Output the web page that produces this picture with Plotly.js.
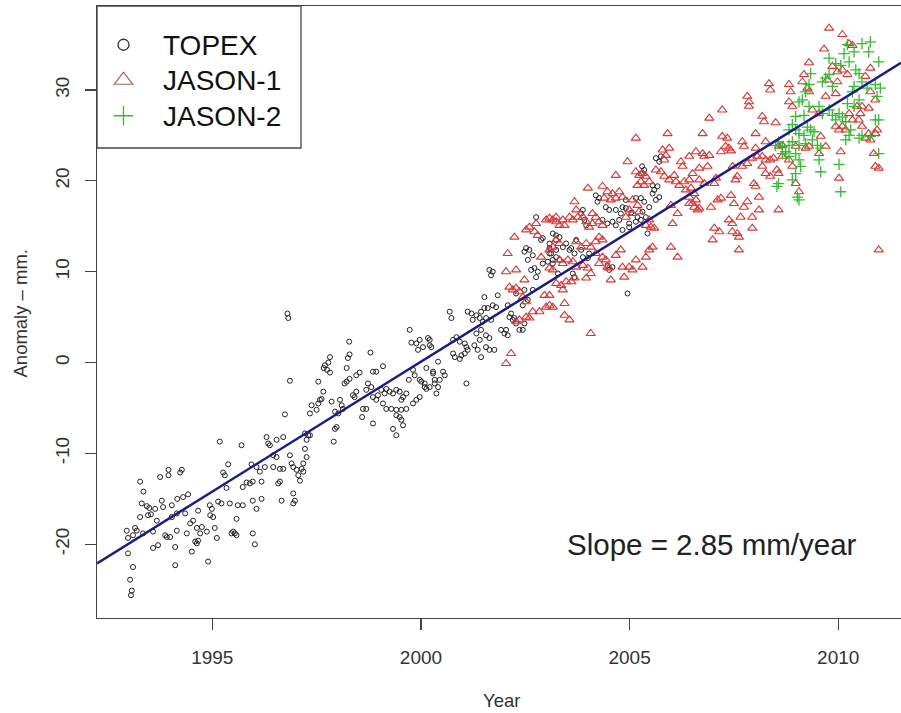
<!DOCTYPE html>
<html>
<head>
<meta charset="utf-8">
<script src="https://cdn.plot.ly/plotly-3.0.1.min.js"></script>
<style>html,body{margin:0;padding:0;background:#fff;}#chart{width:901px;height:713px;}</style>
</head>
<body>
<div id="chart"></div>
<script>
// ---- data: [decimal year, anomaly mm] ----
const topex = [
[1995.18,-8.7],[1995.70,-9.1],[1993.95,-11.8],[1993.95,-12.4],[1994.27,-11.8],[1994.23,-12.1],[1993.75,-12.6],[1993.27,-13.1],[1993.35,-14.2],
[1995.38,-11.2],[1995.26,-12.1],[1995.30,-12.4],[1995.94,-11.2],[1995.82,-13.2],[1995.73,-13.7],[1995.90,-13.3],[1995.97,-13.1],[1995.34,-13.8],
[1994.42,-14.5],[1994.30,-14.8],[1994.16,-15.0],[1994.03,-15.7],[1993.79,-15.2],[1993.31,-15.5],[1993.43,-15.8],[1993.49,-16.0],[1993.63,-16.1],
[1993.82,-15.9],[1993.27,-17.0],[1993.46,-16.8],[1993.53,-16.7],[1993.67,-17.4],[1994.03,-17.0],[1994.15,-16.6],[1994.35,-16.6],[1994.66,-16.3],
[1994.94,-15.7],[1994.99,-16.1],[1994.95,-16.8],[1995.02,-17.0],[1995.14,-15.3],[1995.22,-15.5],[1995.42,-15.5],[1995.61,-15.7],[1995.73,-15.7],
[1995.97,-15.2],[1996.06,-16.1],[1995.58,-17.2],[1992.95,-18.5],[1993.15,-18.2],[1993.19,-18.5],[1993.10,-19.0],[1992.98,-19.3],[1993.34,-18.8],
[1993.58,-18.6],[1993.87,-19.0],[1993.91,-19.2],[1993.99,-19.2],[1994.15,-18.5],[1994.39,-18.8],[1994.47,-17.7],[1994.54,-17.4],[1994.63,-18.2],
[1994.75,-18.1],[1994.71,-18.8],[1994.87,-18.6],[1995.06,-18.2],[1995.11,-19.3],[1995.46,-18.8],[1995.50,-18.6],[1995.58,-19.0],[1995.54,-18.8],
[1995.97,-18.8],[1996.02,-20.0],[1992.98,-21.0],[1993.58,-20.4],[1993.70,-20.1],[1994.11,-20.3],[1994.51,-20.8],[1994.59,-19.7],[1994.63,-19.9],
[1994.66,-19.6],[1993.10,-22.5],[1994.11,-22.3],[1994.90,-21.9],[1993.03,-23.9],[1993.07,-25.1],[1993.05,-25.6],
[1996.80,5.4],[1996.82,4.9],[1996.86,-2.0],[1996.74,-5.7],[1998.28,2.3],[1997.82,0.6],[1997.78,0.0],[1997.70,-0.3],[1997.67,-0.6],[1997.75,-0.8],
[1997.82,-1.1],[1998.29,0.9],[1998.25,0.5],[1998.22,-0.6],[1998.79,1.1],[1999.09,-0.4],[1998.93,-1.0],[1998.85,-1.0],[1999.73,3.6],[1999.77,2.2],
[1999.89,2.1],[1999.93,1.4],[1999.71,-1.9],[1999.81,-0.8],[1998.53,-1.1],[1998.45,-1.4],[1998.29,-1.8],[1998.22,-2.1],[1998.17,-2.3],[1997.54,-2.1],
[1997.66,-3.2],[1997.62,-4.0],[1997.58,-4.1],[1997.38,-4.7],[1997.34,-5.6],[1997.50,-5.2],[1997.54,-4.5],[1997.86,-4.3],[1998.06,-4.1],[1998.10,-4.7],
[1998.13,-5.1],[1997.94,-5.4],[1998.02,-5.6],[1998.37,-3.6],[1998.45,-3.2],[1998.41,-3.8],[1998.73,-2.3],[1998.69,-3.0],[1998.81,-2.7],[1998.85,-3.8],
[1998.93,-4.1],[1998.97,-3.6],[1999.05,-3.0],[1999.13,-3.4],[1999.17,-2.9],[1999.25,-3.2],[1999.33,-3.4],[1999.41,-3.0],[1999.49,-3.2],[1999.57,-3.8],
[1999.65,-3.4],[1999.53,-4.1],[1999.09,-4.5],[1999.17,-5.1],[1999.29,-5.1],[1999.41,-5.2],[1999.53,-5.2],[1999.65,-5.1],[1999.81,-4.5],[1999.89,-4.1],
[1998.61,-5.1],[1998.69,-5.1],[1998.59,-6.0],[1998.85,-6.7],[1999.41,-5.8],[1999.49,-6.0],[1999.53,-6.3],[1999.57,-6.9],[1999.33,-7.3],[1999.41,-8.0],
[1997.98,-7.1],[1997.94,-7.3],[1997.91,-8.7],[1997.22,-7.8],[1997.30,-8.0],[1997.34,-8.0],[1997.26,-8.5],[1997.22,-9.5],[1997.26,-10.4],[1997.18,-11.1],
[1996.30,-8.2],[1996.34,-8.9],[1996.38,-9.1],[1996.54,-8.5],[1996.70,-8.2],[1996.46,-10.2],[1996.54,-10.4],[1996.86,-10.2],[1996.90,-11.1],[1996.94,-11.5],
[1997.02,-11.8],[1997.14,-11.7],[1997.18,-12.0],[1997.10,-13.0],[1997.06,-12.4],[1996.06,-11.5],[1996.14,-12.0],[1996.26,-11.5],[1996.46,-11.5],
[1996.62,-11.7],[1996.70,-11.7],[1996.62,-13.1],[1996.58,-13.3],[1996.18,-13.1],[1996.18,-15.0],[1996.66,-15.2],[1996.94,-14.4],[1996.98,-15.2],[1996.94,-15.5],
[2000.21,2.5],[2000.25,1.7],[1999.97,-3.8],[2000.09,-2.7],[2000.21,-2.7],[2000.33,-1.9],[2000.37,-3.4],[2000.29,-1.2],
[2000.05,1.7],[2000.17,2.7],[2000.21,1.9],[1999.97,2.5],[1999.85,-1.4],[1999.97,-1.9],[2000.13,-0.6],[2000.29,-1.0],[2000.41,0.1],[2000.53,-1.0],
[2000.57,-1.4],[2000.45,-1.9],[2000.33,-2.3],[2000.09,-2.3],[2000.01,-2.1],[2000.13,-2.9],[2000.41,-2.7],[2001.09,-2.3],[2000.69,5.6],[2000.73,4.9],
[2001.12,5.6],[2001.21,5.4],[2001.24,4.7],[2001.33,5.2],[2001.44,5.6],[2001.52,6.0],[2001.41,4.9],[2001.48,4.5],[2000.77,2.5],[2000.85,2.8],
[2000.93,2.3],[2001.05,2.1],[2001.09,1.7],[2001.12,1.4],[2001.05,1.0],[2000.97,0.8],[2000.77,1.0],[2000.81,0.6],[2000.93,0.4],[2001.33,3.2],
[2001.44,3.6],[2001.56,3.0],[2001.64,2.7],[2001.41,2.5],[2001.28,1.9],[2001.36,1.4],[2001.56,1.7],[2001.64,1.4],[2001.76,1.4],[2001.44,0.6],
[2001.52,7.2],[2001.60,6.0],[2001.72,6.3],[2001.84,7.4],[2001.80,6.1],[2001.64,10.2],[2001.72,10.0],[2001.68,9.6],[2001.92,3.6],[2002.00,3.2],
[2002.08,3.0],[2002.04,3.6],[2002.12,5.0],[2002.20,4.7],[2002.28,4.3],[2002.36,3.6],[2002.08,6.3],[2002.28,7.6],[2002.48,8.0],[2002.56,6.9],
[2002.44,6.3],[2002.68,8.0],[2002.64,10.2],[2002.72,10.4],[2002.80,10.0],[2002.76,9.4],[2002.56,11.3],[2002.60,12.4],[2002.52,12.6],[2002.48,12.2],
[2002.68,11.8],[2002.76,16.0],[2002.88,13.5],[2002.92,13.7],[2003.08,12.6],[2003.12,12.0],[2003.04,11.1],[2003.16,11.3],[2002.92,10.9],[2003.24,12.4],
[2003.24,13.5],[2003.28,9.8],[2001.56,4.9],[2001.68,4.7],[2002.16,5.4],[2002.24,4.9],[2002.44,3.6],[2002.48,4.3],
[2005.63,22.5],[2005.71,22.1],[2005.15,18.1],[2005.27,18.1],[2005.35,17.7],[2005.55,18.6],[2005.63,17.9],[2005.71,18.2],[2005.47,17.1],[2005.31,16.6],
[2005.27,15.7],[2005.39,16.0],[2005.43,14.2],[2004.19,18.4],[2004.27,18.1],[2004.23,17.7],[2004.43,17.1],[2004.51,16.8],[2004.67,16.8],[2004.79,16.4],
[2004.91,17.0],[2004.91,17.9],[2004.83,17.1],[2004.35,15.7],[2004.47,15.3],[2004.59,15.5],[2004.67,15.1],[2004.75,15.7],[2004.83,14.6],[2004.99,14.9],
[2005.15,15.5],[2005.19,16.0],[2003.88,16.8],[2003.84,16.4],[2003.92,15.7],[2003.96,15.1],[2003.16,14.2],[2003.24,14.0],[2003.32,13.8],[2003.08,13.1],
[2003.40,12.7],[2003.48,13.1],[2003.56,12.4],[2003.68,12.0],[2003.60,12.6],[2003.72,13.5],[2003.08,12.0],[2003.24,11.6],[2003.32,11.3],[2003.16,10.9],
[2004.51,10.2],[2004.59,10.5],[2004.47,10.7],[2003.88,11.6],[2004.00,11.5],[2004.03,12.0],[2003.84,12.4],[2003.64,9.8],[2003.68,9.4],[2004.95,7.6],
[2005.30,21.6],[2005.35,21.2],[2005.27,20.8],[2005.55,19.5],[2005.59,19.0],[2005.67,19.4],[2005.75,22.7],[2005.04,16.5],[2004.99,15.3]
];

const jason1 = [
[2002.24,13.8],[2002.08,12.0],[2002.04,10.0],[2002.28,10.2],[2002.52,14.6],[2002.60,14.9],[2002.72,14.4],[2002.80,14.0],[2002.76,15.3],[2003.00,15.7],
[2003.08,15.9],[2003.16,15.7],[2003.24,16.0],[2002.88,11.6],[2003.08,10.4],[2003.16,10.2],[2002.48,9.1],[2002.12,8.3],[2002.20,8.0],[2002.28,8.2],
[2002.36,7.8],[2002.44,7.2],[2002.52,6.7],[2002.96,7.4],[2003.08,7.4],[2003.16,6.1],[2003.00,6.1],[2002.84,5.6],[2002.68,5.6],[2002.60,4.9],
[2002.52,5.0],[2002.36,4.7],[2002.28,4.5],[2002.16,1.0],[2002.04,-0.1],
[2005.15,24.7],[2005.91,25.2],[2004.95,22.1],[2004.67,20.6],[2004.00,19.2],[2003.68,17.7],[2005.79,23.4],[2005.87,22.8],[2005.95,23.6],[2005.83,22.3],
[2006.23,22.1],[2006.27,21.6],[2006.59,23.2],[2005.15,21.0],[2005.23,20.6],[2005.31,20.8],[2005.39,20.5],[2005.47,19.9],[2005.27,19.9],[2005.35,19.5],
[2005.19,19.5],[2005.63,21.2],[2005.75,21.0],[2005.83,20.5],[2005.95,20.1],[2006.07,20.6],[2006.11,19.9],[2006.19,19.5],[2006.31,19.9],[2006.35,19.0],
[2006.47,19.2],[2006.55,18.6],[2006.59,17.9],[2006.43,17.5],[2006.55,17.1],[2006.63,16.8],[2005.99,17.3],[2006.15,16.4],[2006.03,15.3],[2005.99,12.7],
[2006.15,11.6],[2005.47,15.7],[2005.39,15.1],[2005.51,14.9],[2005.59,14.8],[2005.55,12.7],[2005.47,12.4],[2005.39,11.6],[2005.15,11.3],[2005.31,10.5],
[2005.07,10.2],[2004.99,10.5],[2004.83,10.5],[2004.87,9.4],[2004.55,9.1],[2004.51,10.4],[2004.35,19.4],[2004.47,18.8],[2004.59,18.6],[2004.75,18.8],
[2004.83,18.2],[2004.67,18.1],[2004.55,17.9],[2004.39,18.1],[2005.07,17.9],[2005.19,17.3],[2005.23,16.6],[2005.07,16.4],[2004.99,16.8],[2004.91,16.0],
[2004.11,16.4],[2004.19,16.0],[2004.27,15.5],[2004.35,15.1],[2004.11,15.3],[2004.03,14.9],[2003.96,15.5],[2003.88,16.0],[2003.72,16.8],[2003.76,16.0],
[2003.64,15.7],[2003.56,16.0],[2003.24,15.5],[2003.32,15.1],[2003.40,15.7],[2003.44,15.1],[2003.24,13.5],[2003.32,13.1],[2003.16,12.7],[2003.08,12.4],
[2003.72,13.3],[2003.84,12.7],[2003.96,13.1],[2004.07,12.7],[2004.19,13.3],[2004.27,13.8],[2004.35,13.5],[2004.19,12.0],[2004.35,11.6],[2004.43,11.3],
[2004.47,10.5],[2004.27,10.9],[2004.67,11.8],[2004.79,12.4],[2003.32,11.3],[2003.40,10.9],[2003.52,11.3],[2003.64,11.1],[2003.72,10.5],[2003.88,10.7],
[2004.00,10.4],[2004.07,9.8],[2003.96,9.3],[2003.24,8.7],[2003.36,8.5],[2003.48,8.9],[2003.60,8.9],[2003.68,9.3],[2003.40,8.0],[2003.08,6.3],
[2003.44,6.5],[2003.44,5.2],[2003.56,4.7],[2004.07,3.2],
[2009.78,36.8],[2010.10,36.1],[2010.26,35.1],[2010.34,34.9],[2009.66,34.5],[2009.30,33.0],[2009.18,31.7],[2009.14,30.9],[2009.26,30.2],[2009.30,29.8],
[2008.82,30.6],[2008.86,29.8],[2008.82,28.7],[2008.90,28.2],[2008.34,30.7],[2008.37,30.0],[2007.82,29.3],[2007.86,28.7],[2007.86,28.2],[2007.22,27.8],
[2006.91,26.9],[2006.75,25.2],[2008.18,27.1],[2008.22,26.5],[2008.50,26.4],[2008.02,25.2],[2007.22,24.9],[2007.34,24.7],[2007.30,23.8],[2007.38,23.6],
[2007.70,24.3],[2007.74,23.8],[2008.02,23.6],[2006.43,22.7],[2006.75,23.0],[2006.79,22.7],[2006.91,22.8],[2007.19,23.2],[2007.43,23.3],[2007.47,21.6],
[2007.70,21.6],[2007.82,21.9],[2007.94,22.5],[2008.06,22.7],[2008.18,22.7],[2008.26,22.3],[2008.37,22.3],[2008.45,22.5],[2008.18,21.6],[2008.26,20.8],
[2008.37,20.5],[2008.53,21.2],[2008.57,20.8],[2006.51,20.8],[2006.43,20.1],[2006.67,20.1],[2006.79,19.7],[2007.03,19.7],[2007.07,20.3],[2006.87,21.6],
[2006.67,21.4],[2007.58,20.5],[2007.54,20.1],[2007.98,19.7],[2008.02,19.4],[2006.43,18.2],[2006.51,17.5],[2006.67,17.0],[2006.95,17.1],[2007.11,17.9],
[2007.19,18.1],[2007.43,18.4],[2007.50,17.5],[2007.74,17.1],[2007.82,17.7],[2008.10,18.2],[2008.10,16.8],[2007.94,16.0],[2007.66,16.0],[2007.38,15.7],
[2007.46,15.3],[2007.03,14.8],[2007.15,14.4],[2007.46,14.4],[2007.58,14.2],[2007.62,13.8],[2007.94,14.8],[2006.99,13.5],[2007.62,12.4],[2008.57,16.8],
[2010.06,23.2],[2010.02,20.3],[2009.06,18.8],[2008.98,19.7],[2010.97,12.4],[2010.85,23.0],[2010.89,21.6],[2010.97,21.4],[2010.77,32.4],[2010.65,31.5],
[2010.77,29.8],[2010.89,28.9],[2010.73,28.0],[2010.57,28.2],[2010.45,28.2],[2010.53,27.4],[2010.49,26.7],[2010.57,26.0],[2010.73,25.2],[2010.89,25.2],
[2010.93,25.6],[2010.65,24.7],[2010.77,24.5],[2010.26,27.4],[2010.34,26.7],[2010.18,25.6],[2010.02,25.6],[2010.10,26.0],[2009.94,26.0],[2009.86,32.6],
[2009.98,32.0],[2010.10,32.2],[2010.22,31.7],[2009.98,30.9],[2009.74,31.1],[2009.70,29.3],[2009.94,29.6],[2009.38,27.8],[2009.54,27.4],[2009.58,24.9],
[2009.70,23.8],[2009.54,23.0],[2009.30,23.8],[2009.22,23.6],[2008.98,23.8],[2008.66,23.9],[2008.57,23.8],[2008.26,24.3],[2008.66,22.7],[2008.82,22.3],
[2008.90,21.6]
];

const jason2 = [
[2010.77,35.3],[2010.73,34.2],[2010.57,35.1],[2010.38,34.2],[2010.22,35.0],[2010.14,34.0],[2010.97,33.1],[2010.89,30.6],[2011.01,30.2],[2010.93,29.3],
[2009.78,33.5],[2009.94,32.9],[2010.06,32.7],[2009.78,31.7],[2009.70,31.3],[2009.62,30.9],[2009.86,30.4],[2010.26,33.1],[2010.42,32.2],[2010.50,31.8],
[2010.57,30.9],[2010.69,30.2],[2010.38,30.4],[2010.34,29.8],[2009.34,31.8],[2009.30,30.6],[2009.22,29.8],[2009.14,28.9],[2009.06,28.7],[2009.30,28.2],
[2009.18,27.2],[2008.98,27.1],[2008.90,26.2],[2008.82,25.6],[2009.54,28.2],[2009.62,27.4],[2009.78,27.8],[2009.86,27.2],[2010.02,27.4],[2010.10,27.0],
[2009.94,26.7],[2010.18,26.5],[2010.30,25.6],[2010.26,25.0],[2010.18,24.5],[2010.50,24.7],[2010.57,25.0],[2010.77,24.9],[2010.89,26.7],[2010.97,26.7],
[2010.22,28.5],[2010.38,28.2],[2010.50,28.9],[2010.97,23.0],[2008.98,25.6],[2009.06,25.2],[2009.18,25.0],[2009.26,25.9],[2009.34,25.6],[2009.42,25.4],
[2009.38,24.5],[2009.50,23.9],[2009.58,23.6],[2009.22,24.1],[2009.06,23.9],[2008.90,24.3],[2008.82,23.9],[2008.66,23.8],[2008.57,24.3],[2008.50,23.9],
[2008.74,23.2],[2008.66,23.0],[2008.82,22.7],[2008.98,23.0],[2009.06,22.3],[2009.10,21.6],[2008.98,20.8],[2009.54,22.3],[2009.58,21.0],[2010.02,21.8],
[2010.06,18.8],[2008.57,19.7],[2008.53,19.4],[2008.90,20.1],[2009.02,18.2],[2009.06,17.9]
];

const seriesNames = ["TOPEX", "JASON-1", "JASON-2"];
const trendSlope = 2.86;      // mm per year (fitted line as drawn)
const trendAt2000 = 0.1;      // mm at year 2000
const slopeLabel = "Slope = 2.85 mm/year";
const xTicks = [1995, 2000, 2005, 2010];
const yTicks = [-20, -10, 0, 10, 20, 30];
const xRange = [1992.237, 2011.504];
const yRange = [-28.11, 39.24];

// ---- build ----
const FONT = "Liberation Sans, Arial, Helvetica, sans-serif";
const col = a => a.map(p => p[0]);
const val = a => a.map(p => p[1]);
const legName = s => '<span style="font-size:28px">' + s + '</span>';

const traces = [];
// legend entries
traces.push({x:[null], y:[null], type:'scatter', mode:'markers', name:legName(seriesNames[0]),
  marker:{symbol:'circle-open', size:11, color:'#333', line:{width:1.3}}});
traces.push({x:[null], y:[null], type:'scatter', mode:'markers', name:legName(seriesNames[1]),
  marker:{symbol:'triangle-up-open', size:16, color:'#b05a5a', line:{width:1.2}}});
traces.push({x:[null], y:[null], type:'scatter', mode:'markers', name:legName(seriesNames[2]),
  marker:{symbol:'cross-thin-open', size:14, color:'#3cb43c', line:{width:1.3}}});
// data
traces.push({x:col(topex), y:val(topex), type:'scatter', mode:'markers', showlegend:false,
  marker:{symbol:'circle-open', size:5, color:'#222', line:{width:1}}});
traces.push({x:col(jason1), y:val(jason1), type:'scatter', mode:'markers', showlegend:false,
  marker:{symbol:'triangle-up-open', size:8, color:'#e03333', line:{width:1.1}}});
traces.push({x:col(jason2), y:val(jason2), type:'scatter', mode:'markers', showlegend:false,
  marker:{symbol:'cross-thin-open', size:8, color:'#2fbf2f', line:{width:1.3}}});
// trend line across the axis range
const lx = xRange.slice();
const ly = lx.map(x => trendSlope * (x - 2000) + trendAt2000);
traces.push({x:lx, y:ly, type:'scatter', mode:'lines', showlegend:false,
  line:{color:'#1c1c88', width:2.5}});

const L = 97, T = 6, W = 804, H = 612;
const px = x => (x - L) / W;
const py = y => (T + H - y) / H;

const layout = {
  width: 901, height: 713,
  margin: {l: L, r: 0, t: T, b: 713 - T - H, pad: 0},
  paper_bgcolor: '#fff', plot_bgcolor: '#fff',
  font: {family: FONT, color: '#333'},
  showlegend: true,
  hovermode: false,
  xaxis: {range: xRange, tickvals: xTicks, ticktext: xTicks.map(String),
    ticks: 'outside', ticklen: 11, tickwidth: 1.2, tickcolor: '#444',
    showline: true, linecolor: '#444', linewidth: 1.3, mirror: true,
    showgrid: false, zeroline: false, tickfont: {size: 19, color: '#333'},
    ticklabelstandoff: 11, fixedrange: true},
  yaxis: {range: yRange, tickvals: yTicks, ticktext: yTicks.map(String),
    ticks: 'outside', ticklen: 11, tickwidth: 1.2, tickcolor: '#444',
    showline: true, linecolor: '#444', linewidth: 1.3, mirror: false,
    showgrid: false, zeroline: false, tickangle: -90, tickfont: {size: 19, color: '#333'},
    ticklabelstandoff: 8, fixedrange: true},
  legend: {x: px(84), y: py(22), xanchor: 'left', yanchor: 'top',
    bgcolor: 'rgba(0,0,0,0)', borderwidth: 0, itemwidth: 69,
    font: {size: 25, color: '#111', family: FONT}},
  shapes: [{type: 'rect', xref: 'paper', yref: 'paper',
    x0: 0, x1: px(301), y0: py(148), y1: 1,
    line: {color: '#444', width: 1.3}, fillcolor: '#fff', layer: 'above'}],
  annotations: [
    {xref: 'paper', yref: 'paper', x: px(711.7), y: py(544), xanchor: 'center', yanchor: 'middle',
     text: slopeLabel, showarrow: false, font: {size: 29.5, color: '#222', family: FONT}},
    {xref: 'paper', yref: 'paper', x: px(502), y: py(712), xanchor: 'center', yanchor: 'bottom',
     text: 'Year', showarrow: false, borderpad: 0, font: {size: 18.5, color: '#333', family: FONT}},
    {xref: 'paper', yref: 'paper', x: px(20), y: py(313.5), xanchor: 'center', yanchor: 'middle',
     text: 'Anomaly \u2013 mm.', textangle: -90, showarrow: false, font: {size: 18.5, color: '#333', family: FONT}}
  ]
};

Plotly.newPlot('chart', traces, layout, {displayModeBar: false, staticPlot: true});
</script>
</body>
</html>
